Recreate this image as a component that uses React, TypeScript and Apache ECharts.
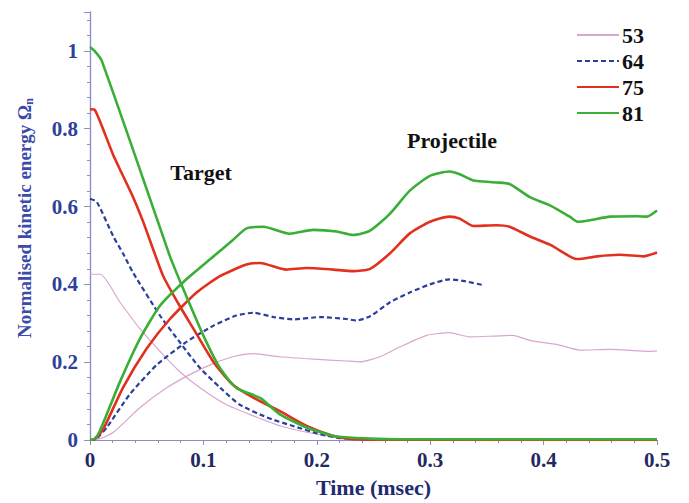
import React, { useEffect, useRef } from "react";
import * as echarts from "echarts";

const names = ["53", "64", "75", "81"];
const colors = ["#d9a6cf", "#2b3f9c", "#e2301f", "#3aae37"];

// Target (decaying) curves
const t53a = [0, 0.009, 0.0265, 0.044, 0.062, 0.079, 0.097, 0.12, 0.144, 0.168, 0.191, 0.214, 0.24, 0.3, 0.5];
const v53a = [0.426, 0.426, 0.354, 0.286, 0.227, 0.176, 0.134, 0.091, 0.062, 0.036, 0.02, 0.008, 0.002, 0, 0];
const t64a = [0, 0.006, 0.0206, 0.029, 0.038, 0.0617, 0.079, 0.097, 0.115, 0.132, 0.156, 0.179, 0.203, 0.22, 0.25, 0.5];
const v64a = [0.62, 0.612, 0.523, 0.48, 0.43, 0.32, 0.252, 0.185, 0.134, 0.091, 0.058, 0.036, 0.015, 0.005, 0.001, 0];
const t75a = [0, 0.0044, 0.0203, 0.038, 0.047, 0.0573, 0.0646, 0.079, 0.091, 0.109, 0.126, 0.144, 0.1675, 0.191, 0.214, 0.23, 0.26, 0.5];
const v75a = [0.85, 0.848, 0.734, 0.624, 0.56, 0.477, 0.421, 0.345, 0.287, 0.2, 0.142, 0.109, 0.074, 0.036, 0.011, 0.003, 0.001, 0];
const t81a = [0, 0.004, 0.0103, 0.0617, 0.0705, 0.0823, 0.0999, 0.1146, 0.129, 0.15, 0.1675, 0.191, 0.214, 0.235, 0.27, 0.5];
const v81a = [1.01, 1.0, 0.975, 0.546, 0.472, 0.388, 0.269, 0.185, 0.134, 0.108, 0.066, 0.032, 0.011, 0.005, 0.002, 0.002];

// Projectile (rising) curves
const t53b = [0, 0.008, 0.0206, 0.044, 0.0676, 0.088, 0.109, 0.126, 0.144, 0.1675, 0.197, 0.226, 0.238, 0.2557, 0.273, 0.297, 0.317, 0.335, 0.356, 0.373, 0.388, 0.414, 0.432, 0.4586, 0.494, 0.5];
const v53b = [0, 0.003, 0.02, 0.083, 0.134, 0.168, 0.197, 0.214, 0.222, 0.214, 0.208, 0.203, 0.201, 0.214, 0.239, 0.269, 0.276, 0.265, 0.267, 0.269, 0.256, 0.244, 0.231, 0.233, 0.228, 0.229];
const t64b = [0, 0.005, 0.0147, 0.035, 0.0588, 0.085, 0.109, 0.129, 0.144, 0.162, 0.179, 0.203, 0.226, 0.235, 0.247, 0.2646, 0.282, 0.2998, 0.317, 0.329, 0.347];
const v64b = [0, 0.002, 0.032, 0.117, 0.193, 0.252, 0.294, 0.32, 0.327, 0.316, 0.31, 0.316, 0.311, 0.307, 0.318, 0.354, 0.379, 0.4, 0.413, 0.409, 0.398];
const t75b = [0, 0.004, 0.0117, 0.029, 0.05, 0.0705, 0.094, 0.1146, 0.138, 0.15, 0.173, 0.191, 0.2145, 0.232, 0.247, 0.2646, 0.282, 0.2998, 0.317, 0.326, 0.338, 0.3586, 0.37, 0.388, 0.4056, 0.423, 0.43, 0.447, 0.467, 0.488, 0.5];
const v75b = [0, 0.002, 0.028, 0.134, 0.235, 0.311, 0.379, 0.421, 0.451, 0.455, 0.438, 0.442, 0.438, 0.434, 0.44, 0.48, 0.531, 0.561, 0.574, 0.569, 0.55, 0.552, 0.548, 0.523, 0.502, 0.472, 0.465, 0.472, 0.476, 0.472, 0.482];
const t81b = [0, 0.004, 0.0088, 0.0265, 0.044, 0.0617, 0.085, 0.109, 0.126, 0.138, 0.153, 0.176, 0.197, 0.2175, 0.232, 0.247, 0.2646, 0.282, 0.2998, 0.317, 0.326, 0.338, 0.3586, 0.37, 0.388, 0.4056, 0.423, 0.43, 0.441, 0.4586, 0.482, 0.491, 0.5];
const v81b = [0, 0.003, 0.024, 0.15, 0.26, 0.345, 0.413, 0.472, 0.514, 0.544, 0.548, 0.53, 0.54, 0.536, 0.527, 0.538, 0.582, 0.641, 0.679, 0.69, 0.683, 0.667, 0.662, 0.658, 0.624, 0.603, 0.574, 0.561, 0.565, 0.574, 0.575, 0.574, 0.59];

const xTicks = [0, 0.1, 0.2, 0.3, 0.4, 0.5];
const yTicks = [0, 0.2, 0.4, 0.6, 0.8, 1];

const pairs = (t: number[], v: number[]) => t.map((x, i) => [x, v[i]]);

const SERIF = "'Liberation Serif', 'Times New Roman', serif";

export default function App() {
  const ref = useRef<HTMLDivElement>(null);
  useEffect(() => {
    document.body.style.margin = "0";
    if (!ref.current) return;
    const chart = echarts.init(ref.current, null, { renderer: "svg" });
    const targets = [pairs(t53a, v53a), pairs(t64a, v64a), pairs(t75a, v75a), pairs(t81a, v81a)];
    const projs = [pairs(t53b, v53b), pairs(t64b, v64b), pairs(t75b, v75b), pairs(t81b, v81b)];
    const widths = [1.2, 2.2, 2.6, 2.6];
    const mk = (i: number, data: number[][]) => ({
      name: names[i],
      type: "line",
      data,
      symbol: "none",
      smooth: 0.2,
      z: 2 + i,
      lineStyle: {
        color: colors[i],
        width: widths[i],
        type: i === 1 ? [5, 3] : "solid",
      },
      itemStyle: { color: colors[i] },
    });
    const series: any[] = [];
    for (let i = 0; i < 4; i++) {
      series.push(mk(i, targets[i]));
      series.push(mk(i, projs[i]));
    }
    const axisColor = "#8e8ec4";
    chart.setOption({
      animation: false,
      backgroundColor: "#ffffff",
      grid: { left: 90, right: 32, top: 12, bottom: 57 },
      legend: {
        data: names,
        orient: "vertical",
        right: 40,
        top: 19,
        itemGap: 4,
        itemWidth: 42,
        itemHeight: 14,
        itemStyle: { opacity: 0 },
        textStyle: { fontFamily: SERIF, fontWeight: "bold", fontSize: 22, color: "#111", lineHeight: 20, padding: [0, 0, 0, -2] },
      },
      xAxis: [
        {
          type: "value",
          min: 0,
          max: 0.5,
          interval: 0.1,
          name: "Time (msec)",
          nameLocation: "middle",
          nameGap: 36,
          nameTextStyle: { fontFamily: SERIF, fontWeight: "bold", fontSize: 22, color: "#1f2a70" },
          axisLine: { show: true, lineStyle: { color: axisColor, width: 1.2 } },
          axisTick: { show: true, inside: false, length: 5, lineStyle: { color: axisColor } },
          minorTick: { show: true, splitNumber: 5, length: 3, lineStyle: { color: axisColor } },
          splitLine: { show: false },
          axisLabel: {
            margin: 9,
            fontFamily: SERIF,
            fontWeight: "bold",
            fontSize: 21,
            color: "#1f2a60",
            formatter: (v: number) => (xTicks.some((x) => Math.abs(x - v) < 1e-6) ? String(+v.toFixed(1)) : ""),
          },
        },
        {
          type: "value",
          position: "top",
          min: 0,
          max: 0.5,
          interval: 0.1,
          axisLine: { show: true, lineStyle: { color: axisColor, width: 1.2 } },
          axisTick: { show: true, inside: true, length: 5, lineStyle: { color: axisColor } },
          minorTick: { show: true, splitNumber: 5, length: 3, lineStyle: { color: axisColor } },
          splitLine: { show: false },
          axisLabel: { show: false },
        },
      ],
      yAxis: [
        {
          type: "value",
          min: 0,
          max: 1.1,
          interval: 0.2,
          axisLine: { show: true, lineStyle: { color: axisColor, width: 1.2 } },
          axisTick: { show: true, inside: false, length: 6, lineStyle: { color: axisColor } },
          minorTick: { show: true, splitNumber: 5, length: 3, lineStyle: { color: axisColor } },
          splitLine: { show: false },
          axisLabel: {
            margin: 12,
            fontFamily: SERIF,
            fontWeight: "bold",
            fontSize: 21,
            color: "#2f3f9c",
            formatter: (v: number) => (yTicks.some((y) => Math.abs(y - v) < 1e-6) ? String(+v.toFixed(1)) : ""),
          },
        },
        {
          type: "value",
          position: "right",
          min: 0,
          max: 1.1,
          interval: 0.2,
          axisLine: { show: true, lineStyle: { color: axisColor, width: 1.2 } },
          axisTick: { show: true, inside: true, length: 5, lineStyle: { color: axisColor } },
          minorTick: { show: true, splitNumber: 5, length: 3, lineStyle: { color: axisColor } },
          splitLine: { show: false },
          axisLabel: { show: false },
        },
      ],
      graphic: [
        {
          type: "text",
          x: 24,
          y: 218,
          rotation: Math.PI / 2,
          style: {
            text: "Normalised kinetic energy Ω{sub|n}",
            font: `bold 19px ${SERIF}`,
            fill: "#3a4bab",
            align: "center",
            verticalAlign: "middle",
            rich: { sub: { font: `bold 12px ${SERIF}`, fill: "#3a4bab", padding: [10, 0, 0, 0] } },
          },
        },
        {
          type: "text",
          x: 201,
          y: 172,
          style: { text: "Target", font: `bold 22px ${SERIF}`, fill: "#111", align: "center", verticalAlign: "middle" },
        },
        {
          type: "text",
          x: 452,
          y: 140,
          style: { text: "Projectile", font: `bold 22px ${SERIF}`, fill: "#111", align: "center", verticalAlign: "middle" },
        },
      ],
      series,
    });
    return () => chart.dispose();
  }, []);
  return <div ref={ref} style={{ width: 689, height: 503 }} />;
}
